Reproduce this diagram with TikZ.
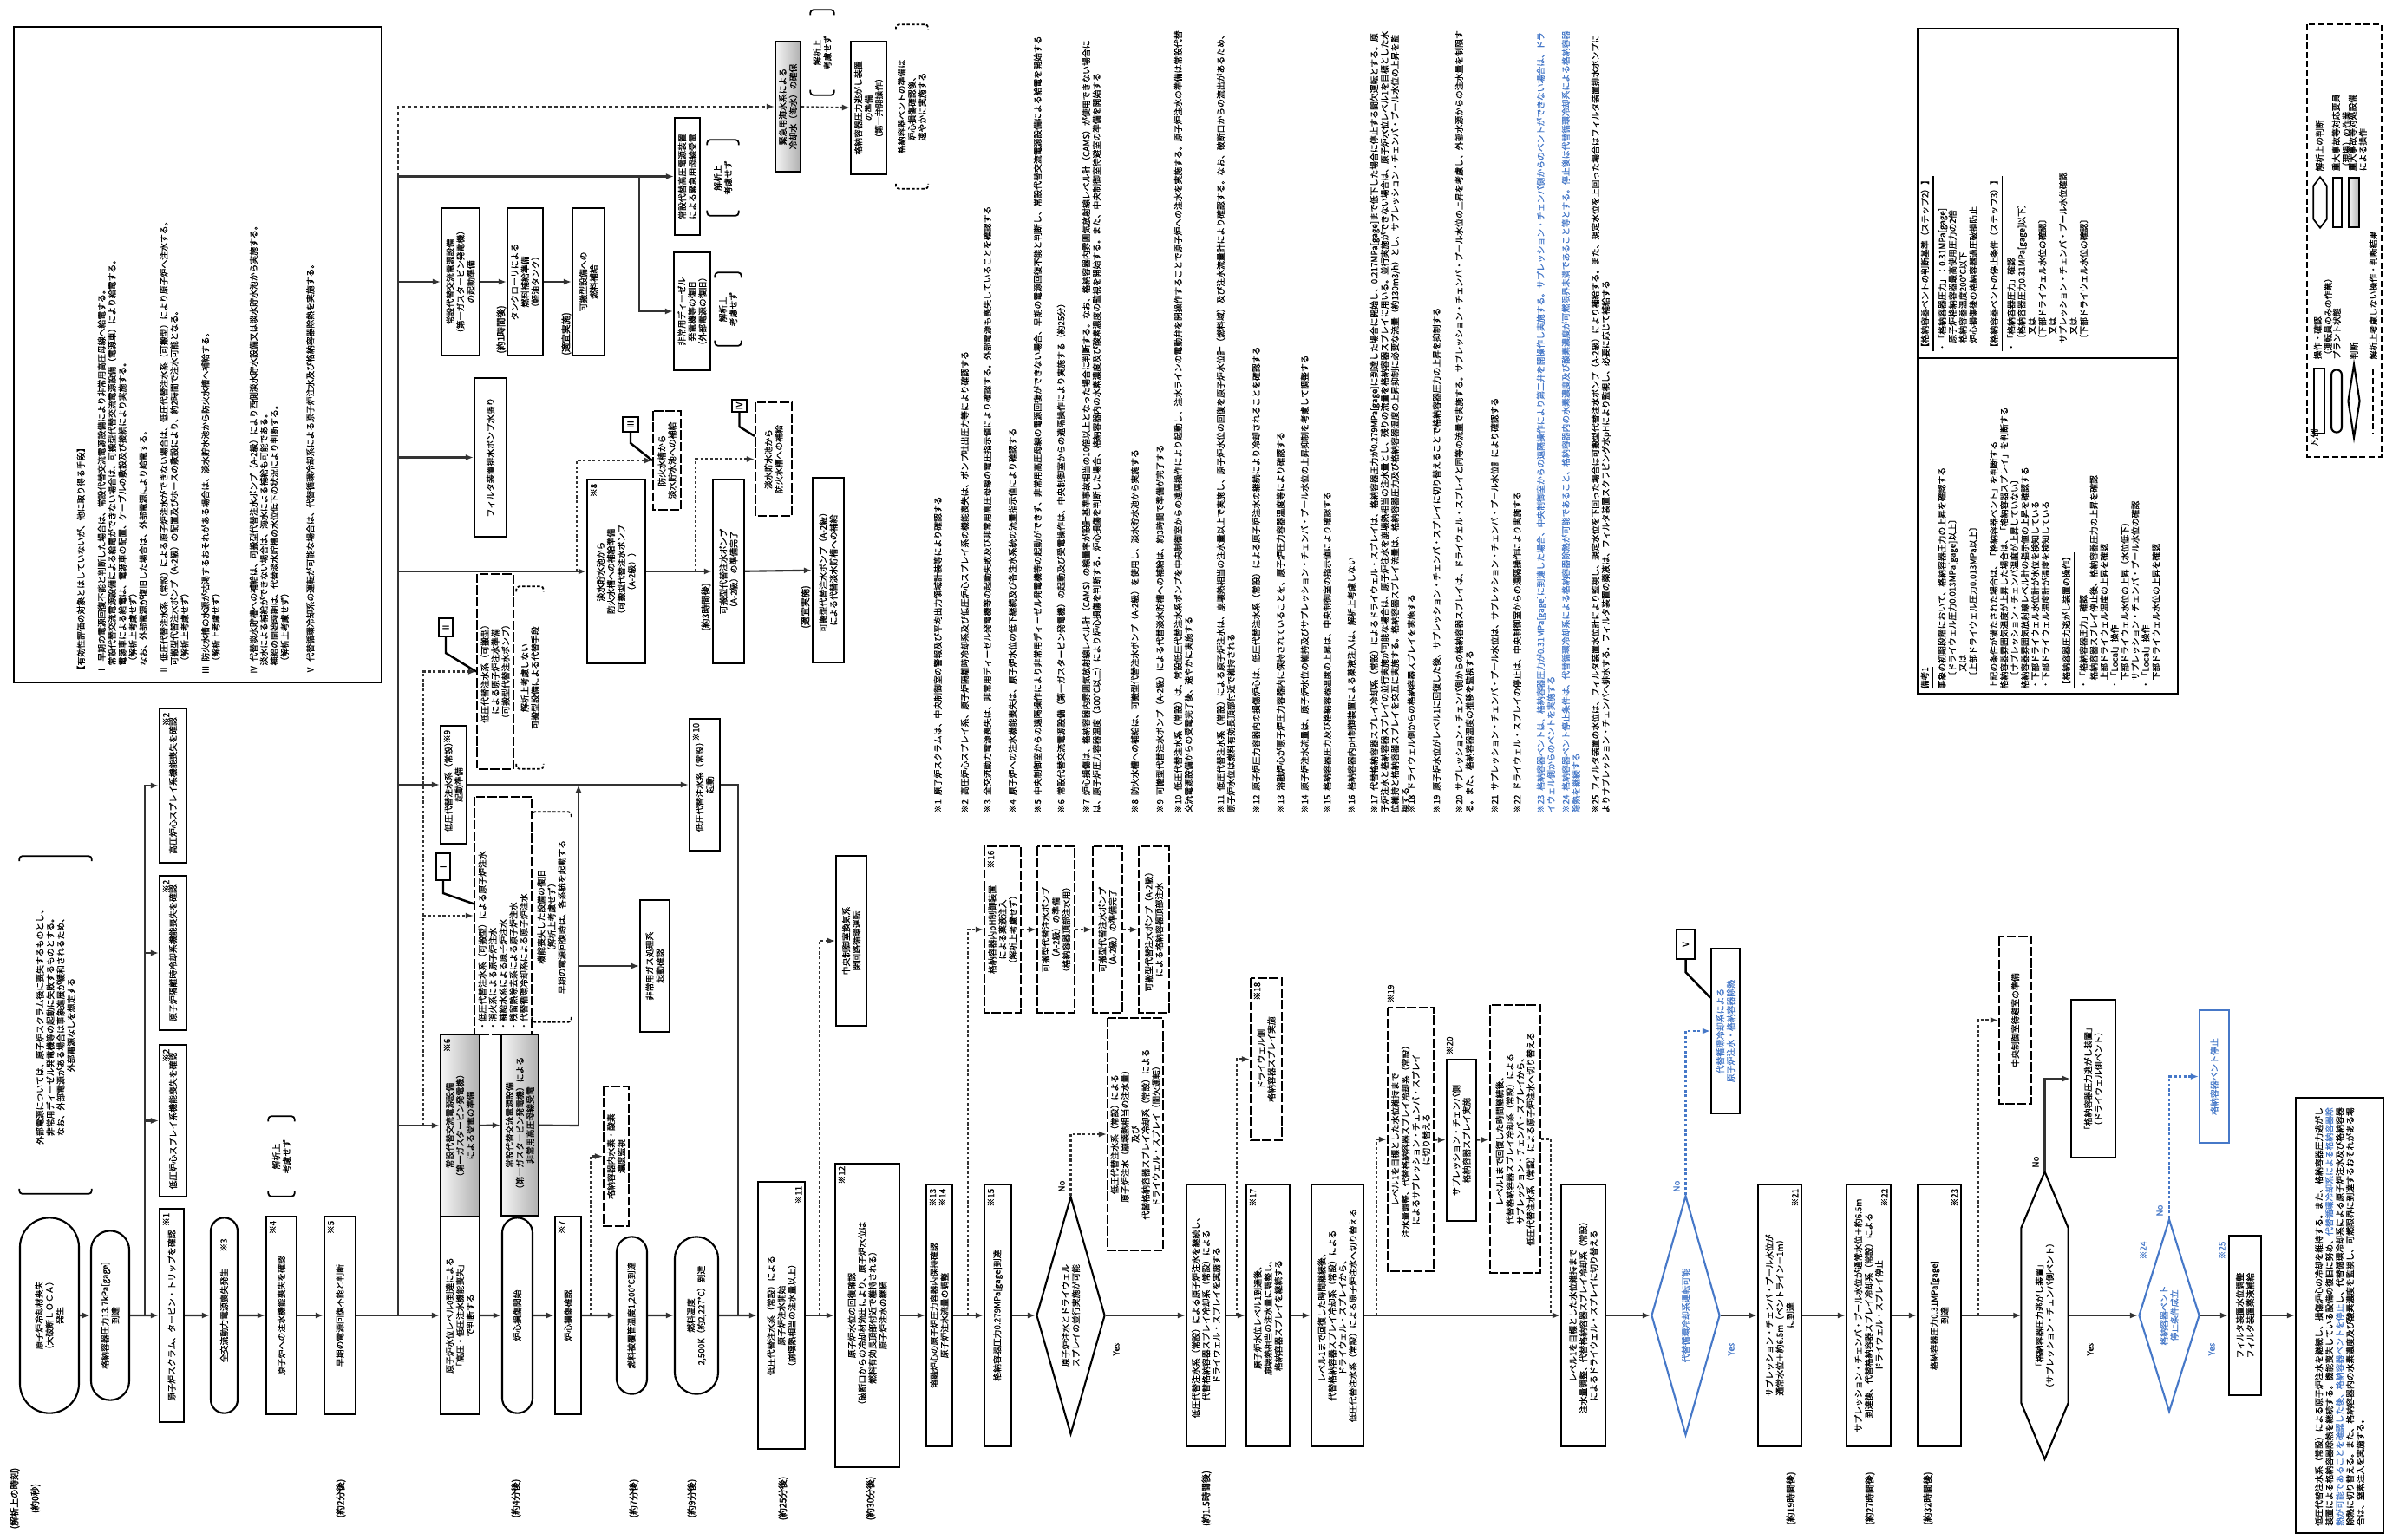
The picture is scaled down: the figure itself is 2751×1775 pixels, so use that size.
\documentclass[tikz,border=0pt]{standalone}
\usepackage{fontspec}
\setmainfont{Noto Sans CJK JP}[FakeBold=0.6]
\newfontfamily\heavyjp{Noto Sans CJK JP}[FakeBold=2]
\usetikzlibrary{arrows.meta, shapes.geometric, shapes.misc, calc}
\XeTeXlinebreaklocale "ja"
\XeTeXlinebreakskip=0pt plus 0.2pt
\definecolor{flowblue}{RGB}{70,120,200}
\newcommand{\jpsmall}{\fontsize{2.8}{3.4}\selectfont}
\tikzset{
    opbox/.style={draw, line width=0.6pt, inner sep=0.4pt, align=flush center, font=\jpsmall},
    dbox/.style={opbox, dash pattern=on 3pt off 0.8pt},
    shbox/.style={opbox, left color=gray!8, right color=gray!62},
    term/.style={opbox, rounded rectangle},
    judge/.style={opbox, diamond, inner sep=0pt},
    bjudge/.style={judge, draw=flowblue, text=flowblue},
    plain/.style={inner sep=0.4pt, align=flush center, font=\jpsmall},
    callbox/.style={draw, line width=0.6pt, inner sep=0pt, align=flush center, font=\jpsmall},
    tagtxt/.style={rotate=90, inner sep=0.3pt, font=\jpsmall},
    notecol/.style={rotate=90, inner sep=0pt, align=flush left, font=\jpsmall},
    timelbl/.style={rotate=90, inner sep=0pt, font=\heavyjp\fontsize{3}{3.6}\selectfont},
    flow/.style={line width=0.6pt, draw=black!80, -{Latex[length=0.9mm, width=0.7mm]}},
    subflow/.style={flow, dash pattern=on 0.9pt off 0.7pt},
    bluesub/.style={subflow, draw=flowblue},
    link/.style={line width=0.6pt, draw=black!80},
    callline/.style={line width=0.7pt},
}
% box given by its corners in the page (x1,y1,x2,y2), text turned upward
\newcommand{\pbox}[7][opbox]{%
    \pgfmathsetmacro\pbW{(#6-#4)/100}%
    \pgfmathsetmacro\pbH{(#5-#3)/100}%
    \pgfmathsetmacro\pbT{max(\pbW-0.1,0.1)}%
    \node[rotate=90, minimum width=\pbW cm, minimum height=\pbH cm, text width=\pbT cm, #1]
        (#2) at ({(#3+#5)/2},{(#4+#6)/2}) {#7};}
% box on the main line
\newcommand{\mnode}[6][opbox]{\pbox[#1]{#2}{#3}{(1517-#5)}{#4}{(1517+#5)}{#6}}
\newcommand{\tg}[4][anchor=north east]{\node[tagtxt, #1] (#2) at (#3) {#4};}
\newcommand{\brk}[2][]{%
    \draw[line width=0.5pt, rounded corners=1pt, #1] (#2.north west) -- ++(0,6) -| (#2.south west);
    \draw[line width=0.5pt, rounded corners=1pt, #1] (#2.north east) -- ++(0,-6) -| (#2.south east);}

\begin{document}
\begin{tikzpicture}[x=0.01cm, y=-0.01cm]
\path[use as bounding box, fill=white] (0,0) rectangle (2751,1775);

% main sequence
\mnode[term, text width=1.45cm]{n1}{23}{91}{114}{原子炉冷却材喪失\\（大破断ＬＯＣＡ）\\発生}
\mnode[term, text width=1.5cm]{n2}{105}{149}{99}{格納容器圧力13.7kPa[gage]\\到達}
\mnode{n3}{184}{212}{123}{原子炉スクラム、タービン・トリップを確認}
\mnode[term, text width=1.9cm]{n4}{243}{274}{114}{全交流動力電源喪失発生}
\mnode{n5}{307}{342}{114}{原子炉への注水機能喪失を確認}
\mnode{n6}{374}{410}{114}{早期の電源回復不能と判断}
\mnode{n7}{508}{553}{114}{原子炉水位レベル0到達による\\「高圧・低圧注水機能喪失」\\で判断する}
\mnode[term, text width=1.9cm]{n8}{579}{614}{114}{炉心損傷開始}
\mnode{n9}{640}{670}{114}{炉心損傷確認}
\mnode[term, text width=1.4cm]{n10}{711}{746}{92}{燃料被覆管温度1,200℃到達}
\mnode[term, text width=1.3cm]{n11}{778}{828}{92}{燃料温度\\2,500K（約2,227℃）到達}
\mnode{n12}{874}{928}{154}{低圧代替注水系（常設）による\\原子炉注水開始\\（崩壊熱相当の注水量以上）}
\mnode{n13}{963}{1037}{175}{原子炉水位の回復確認\\（破断口からの冷却材流出により、原子炉水位は\\燃料有効長頂部付近で維持される）\\原子炉注水の継続}
\mnode{n14}{1068}{1098}{151}{溶融炉心の原子炉圧力容器内保持確認\\原子炉注水流量の調整}
\mnode{n15}{1135}{1166}{151}{格納容器圧力0.279MPa[gage]到達}
\mnode[judge, text width=1.3cm, shape aspect=3.4]{d1}{1195}{1274}{137}{原子炉注水とドライウェル\\スプレイの並行実施が可能}
\mnode{n16}{1368}{1413}{151}{低圧代替注水系（常設）による原子炉注水を継続し、\\代替格納容器スプレイ冷却系（常設）による\\ドライウェル・スプレイを実施する}
\mnode{n17}{1437}{1487}{151}{原子炉水位レベル1到達後、\\崩壊熱相当の注水量に調整し、\\格納容器スプレイを継続する}
\mnode{n18}{1512}{1572}{151}{レベル1まで回復した時間継続後、\\代替格納容器スプレイ冷却系（常設）による\\ドライウェル・スプレイから、\\低圧代替注水系（常設）による原子炉注水へ切り替える}
\mnode{n19}{1800}{1851}{151}{レベル1を目標とした水位維持まで\\注水量調整、代替格納容器スプレイ冷却系（常設）\\によるドライウェル・スプレイに切り替える}
\mnode[bjudge, text width=1.3cm, shape aspect=3.5]{d2}{1904}{1983}{138}{代替循環冷却系運転可能}
\mnode{n20}{2027}{2077}{151}{サプレッション・チェンバ・プール水位が\\通常水位＋約6.5m（ベントライン－1m）\\に到達}
\mnode{n21}{2129}{2180}{151}{サプレッション・チェンバ・プール水位が通常水位＋約6.5m\\到達後、代替格納容器スプレイ冷却系（常設）による\\ドライウェル・スプレイ停止}
\mnode{n22}{2211}{2261}{151}{格納容器圧力0.31MPa[gage]\\到達}
\mnode[plain, text width=2.1cm]{hx}{2331}{2384}{165}{「格納容器圧力逃がし装置」\\（サプレッション・チェンバ側ベント）}
\draw[line width=0.6pt] (hx.east) -- ($(hx.north east)+(0,65)$) -- ($(hx.north west)+(0,-65)$) -- (hx.west)
    -- ($(hx.south west)+(0,-65)$) -- ($(hx.south east)+(0,65)$) -- cycle;
\mnode[bjudge, text width=0.85cm, shape aspect=3.2]{d3}{2466}{2536}{111}{格納容器ベント\\停止条件成立}
\mnode{n23}{2570}{2607}{92}{フィルタ装置水位調整\\フィルタ装置薬液補給}
\mnode[opbox, align=flush left, text width=4.85cm]{n24}{2647}{2748}{251}{低圧代替注水系（常設）による原子炉注水を継続し、損傷炉心の冷却を維持する。また、格納容器圧力逃がし装置による格納容器除熱を継続する。機能喪失している設備の復旧に努め、\textcolor{flowblue}{代替循環冷却系による格納容器除熱が可能であることを確認した後、格納容器ベントを停止}し、代替循環冷却系による原子炉注水及び格納容器除熱に切り替える。また、格納容器内の水素濃度及び酸素濃度を監視し、可燃限界に到達するおそれがある場合は、窒素注入を実施する。}

% branch boxes
\pbox{t1}{184}{817}{215}{995}{高圧炉心スプレイ系機能喪失を確認}
\pbox{t2}{184}{1010}{215}{1188}{原子炉隔離時冷却系機能喪失を確認}
\pbox{t3}{184}{1205}{215}{1380}{低圧炉心スプレイ系機能喪失を確認}
\pbox[plain]{bn1}{23}{994}{105}{1370}{外部電源については、原子炉スクラム後に喪失するものとし、\\非常用ディーゼル発電機等の起動に失敗するものとする。\\なお、外部電源がある場合は事象進展が緩和されるため、\\外部電源なしを想定する}
\pbox[plain]{bn2}{310}{1294}{339}{1373}{解析上\\考慮せず}
\pbox[shbox]{g1}{894}{48}{923}{198}{緊急用海水系による\\冷却水（海水）の確保}
\pbox[plain]{bn3}{935}{18}{961}{103}{解析上\\考慮せず}
\pbox{h1}{981}{48}{1022}{201}{格納容器圧力逃がし装置\\の準備\\（第一弁開操作）}
\pbox[plain]{bn4}{1034}{35}{1069}{211}{格納容器ベントの準備は\\炉心損傷確認後、\\速やかに実施する}
\pbox{p1}{778}{136}{807}{271}{常設代替高圧電源装置\\による緊急用母線受電}
\pbox[plain]{bn5}{816}{168}{851}{242}{解析上\\考慮せず}
\pbox{p2}{777}{291}{819}{427}{非常用ディーゼル\\発電機等の復旧\\（外部電源の復旧）}
\pbox[plain]{bn6}{825}{321}{854}{392}{解析上\\考慮せず}
\pbox{q1}{509}{240}{553}{410}{常設代替交流電源設備\\（第一ガスタービン発電機）\\の起動準備}
\pbox{q2}{585}{240}{626}{410}{タンクローリによる\\燃料補給準備\\（軽油タンク）}
\pbox{q3}{660}{240}{697}{410}{可搬型設備への\\燃料補給}
\pbox{r1}{547}{436}{584}{619}{フィルタ装置排水ポンプ水張り}
\pbox{s1}{677}{553}{744}{765}{淡水貯水池から\\防火水槽への補給準備\\（可搬型代替注水ポンプ\\（A-2級））}
\pbox{s2}{822}{553}{858}{765}{可搬型代替注水ポンプ\\（A-2級）の準備完了}
\pbox{s3}{937}{551}{973}{764}{可搬型代替注水ポンプ（A-2級）\\による代替淡水貯槽への補給}
\pbox[dbox]{u1}{753}{474}{785}{588}{防火水槽から\\淡水貯水池への補給}
\pbox[dbox]{u2}{871}{464}{913}{595}{淡水貯水池から\\防火水槽への補給}
\pbox{ap}{508}{837}{538}{973}{低圧代替注水系（常設）\\起動準備}
\pbox{bp}{795}{829}{830}{981}{低圧代替注水系（常設）\\起動}
\pbox[dbox]{v1}{550}{662}{592}{887}{低圧代替注水系（可搬型）\\による原子炉注水準備\\（可搬型代替注水ポンプ）}
\pbox[plain]{bn7}{596}{683}{626}{880}{解析上考慮しない\\可搬型設備による代替手段}
\pbox[dbox, align=flush left]{w1}{547}{919}{613}{1193}{・低圧代替注水系（可搬型）による原子炉注水\\・消火系による原子炉注水\\・補給水系による原子炉注水\\・残留熱除去系による原子炉注水\\・代替循環冷却系による原子炉注水}
\pbox[plain]{bn8}{614}{943}{658}{1172}{機能喪失した設備の復旧\\（解析上考慮せず）\\早期の電源回復時は、各系統を起動する}
\pbox[shbox]{sA}{508}{1193}{553}{1403}{常設代替交流電源設備\\（第一ガスタービン発電機）\\による受電の準備}
\pbox[shbox]{sB}{578}{1193}{621}{1402}{常設代替交流電源設備\\（第一ガスタービン発電機）による\\非常用高圧母線受電}
\pbox{x1}{738}{1038}{772}{1190}{非常用ガス処理系\\起動確認}
\pbox[dbox]{y1}{696}{1253}{725}{1414}{格納容器内水素・酸素\\濃度監視}
\pbox{z1}{964}{987}{999}{1183}{中央制御室換気系\\閉回路循環運転}
\pbox[dbox]{c1}{1135}{976}{1177}{1168}{格納容器内pH制御装置\\による薬液注入\\（解析上考慮せず）}
\pbox[dbox]{c2}{1196}{976}{1239}{1168}{可搬型代替注水ポンプ\\（A-2級）の準備\\（格納容器頂部注水用）}
\pbox[dbox]{c3}{1260}{976}{1294}{1168}{可搬型代替注水ポンプ\\（A-2級）の準備完了}
\pbox[dbox]{c4}{1313}{976}{1348}{1168}{可搬型代替注水ポンプ（A-2級）\\による格納容器頂部注水}
\pbox[dbox]{e1}{1277}{1174}{1341}{1442}{低圧代替注水系（常設）による\\原子炉注水（崩壊熱相当の注水量）\\及び\\代替格納容器スプレイ冷却系（常設）による\\ドライウェル・スプレイ（間欠運転）}
\pbox[dbox]{f1}{1442}{1128}{1478}{1315}{ドライウェル側\\格納容器スプレイ実施}
\pbox[dbox]{g19}{1600}{1162}{1653}{1466}{レベル1を目標とした水位維持まで\\注水量調整、代替格納容器スプレイ冷却系（常設）\\によるサプレッション・チェンバ・スプレイ\\に切り替える}
\pbox{g20}{1668}{1222}{1702}{1408}{サプレッション・チェンバ側\\格納容器スプレイ実施}
\pbox[dbox]{g21}{1718}{1159}{1776}{1468}{レベル1まで回復した時間継続後、\\代替格納容器スプレイ冷却系（常設）による\\サプレッション・チェンバ・スプレイから、\\低圧代替注水系（常設）による原子炉注水へ切り替える}
\pbox[opbox, text=flowblue]{b1}{1973}{1094}{2006}{1284}{代替循環冷却系による\\原子炉注水・格納容器除熱}
\pbox[dbox]{k1}{2305}{1080}{2342}{1273}{中央制御室待避室の準備}
\pbox{k2}{2388}{1153}{2439}{1335}{「格納容器圧力逃がし装置」\\（ドライウェル側ベント）}
\pbox[opbox, draw=flowblue, text=flowblue]{k3}{2536}{1165}{2570}{1318}{格納容器ベント停止}

% callouts
\pbox[callbox]{cI}{503}{984}{519}{1015}{Ⅰ}
\pbox[callbox]{cII}{506}{713}{522}{734}{Ⅱ}
\pbox[callbox]{cIII}{718}{481}{736}{498}{Ⅲ}
\pbox[callbox]{cIV}{844}{461}{861}{475}{Ⅳ}
\pbox[callbox]{cV}{1933}{1072}{1954}{1106}{Ⅴ}
\draw[callline] (cI.west) -- ++(0,14) -- ($(w1.north east)!0.45!(w1.north west)$);
\draw[callline] (cII.west) -- ++(0,18) -- ($(v1.north east)!0.5!(v1.north west)$);
\draw[callline] (cIII.west) -- ++(0,12) -- ($(u1.north east)!0.5!(u1.north west)$);
\draw[callline] (cIV.west) -- ++(0,16) -- ($(u2.north east)!0.3!(u2.north west)$);
\draw[callline] (cV.west) -- ++(0,14) -- ($(b1.north east)!0.3!(b1.north west)$);

% brackets
\brk{bn1}
\brk{bn2}
\brk{bn3}
\brk[dash pattern=on 1pt off 0.6pt]{bn4}
\brk{bn5}
\brk{bn6}
\brk[dash pattern=on 1pt off 0.6pt]{bn7}
\brk[dash pattern=on 1pt off 0.6pt]{bn8}

% junctions
\coordinate (j1) at (167,1517);
\coordinate (j2) at (459,1517);
\coordinate (j3) at (681,1517);
\coordinate (j4) at (851,1517);
\coordinate (j5) at (945,1517);
\coordinate (j6) at (1116,1517);
\coordinate (j7) at (1426,1517);
\coordinate (j8) at (1587,1517);
\coordinate (j9) at (1788,1517);
\coordinate (j10) at (2281,1517);
\coordinate (kp) at (737,204);
\coordinate (ku1) at (665,659);
\coordinate (ku2) at (802,659);
\coordinate (kd) at (488,1298);
\coordinate (ksb) at (667,1298);

% main line
\draw[flow] (n1) -- (n2);
\draw[flow] (n2) -- (n3);
\draw[flow] (n3) -- (n4);
\draw[flow] (n4) -- (n5);
\draw[flow] (n5) -- (n6);
\draw[flow] (n6) -- (n7);
\draw[flow] (n7) -- (n8);
\draw[flow] (n8) -- (n9);
\draw[flow] (n9) -- (n10);
\draw[flow] (n10) -- (n11);
\draw[flow] (n11) -- (n12);
\draw[flow] (n12) -- (n13);
\draw[flow] (n13) -- (n14);
\draw[flow] (n14) -- (n15);
\draw[flow] (n15) -- (d1);
\draw[flow] (d1) -- (n16);
\draw[flow] (n16) -- (n17);
\draw[flow] (n17) -- (n18);
\draw[flow] (n18) -- (n19);
\draw[flow] (n19) -- (d2);
\draw[flow] (d2) -- (n20);
\draw[flow] (n20) -- (n21);
\draw[flow] (n21) -- (n22);
\draw[flow] (n22) -- (hx);
\draw[flow] (hx) -- (d3);
\draw[flow] (d3) -- (n23);
\draw[flow] (n23) -- (n24);

% branches
\draw[flow] (j1) |- (t1);
\draw[flow] (j1) |- (t2);
\draw[flow] (j1) |- (t3);
\draw[flow] (j2) |- (p1);
\draw[flow] (kp) |- (p2);
\draw[flow, dash pattern=on 1.2pt off 0.8pt] (j2 |- p1) |- (g1);
\draw[subflow] (g1) -- (h1);
\draw[flow] (j2) |- (q1);
\draw[flow] (q1) -- (q2);
\draw[flow] (q2) -- (q3);
\draw[flow] (j2) |- (r1);
\draw[flow] (j2) |- (s1);
\draw[flow] (s1) -- (s2);
\draw[flow] (s2) -- (s3);
\draw[subflow] (ku1) |- (u1);
\draw[subflow] (ku2) |- (u2);
\draw[flow] (j2) |- (ap);
\draw[flow] (ap) -- (bp);
\draw[link] (bp) -| (j4);
\draw[subflow] (kd) |- (v1);
\draw[subflow] (kd) |- (w1);
\draw[flow] (j2 |- sA) -- (sA);
\draw[flow] (sA) -- (sB);
\draw[link] (sB) -- (ksb);
\draw[flow] (ksb) -- (ksb |- ap);
\draw[flow] (ksb |- x1) -- (x1);
\draw[subflow] (j3) |- (y1);
\draw[subflow] (j5) |- (z1);
\draw[subflow] (j6) |- (c1);
\draw[subflow] (c1) -- (c2);
\draw[subflow] (c2) -- (c3);
\draw[subflow] (c3) -- (c4);
\draw[subflow] (d1.east) |- (e1);
\draw[subflow] (j7) |- (f1);
\draw[subflow] (j8) |- (g19);
\draw[subflow] (g19) -- (g20);
\draw[subflow] (g20) -- (g21);
\draw[link, dash pattern=on 0.9pt off 0.7pt] (g21) -| (j9);
\draw[bluesub] (d2.east) |- (b1);
\draw[subflow] (j10) |- (k1);
\draw[flow] (hx.east) |- (k2);
\draw[bluesub] (d3.east) |- (k3);

% yes / no
\node[tagtxt] (no1) at (1224,1368) {No};
\node[tagtxt] (ye1) at (1287,1556) {Yes};
\node[tagtxt, text=flowblue] (no2) at (1933,1368) {No};
\node[tagtxt, text=flowblue] (ye2) at (1996,1556) {Yes};
\node[tagtxt] (no3) at (2347,1340) {No};
\node[tagtxt] (ye3) at (2410,1556) {Yes};
\node[tagtxt, text=flowblue] (no4) at (2490,1396) {No};
\node[tagtxt, text=flowblue] (ye4) at (2550,1556) {Yes};

% note marks
\tg{tg1}{186,1397}{※1}
\tg{tg2}{186,820}{※2}
\tg{tg3}{186,1013}{※2}
\tg{tg4}{186,1208}{※2}
\tg[anchor=center]{tg5}{258,1436}{※3}
\tg{tg6}{309,1406}{※4}
\tg{tg7}{376,1406}{※5}
\tg{tg8}{510,1196}{※6}
\tg{tg9}{642,1406}{※7}
\tg{tg10}{679,556}{※8}
\tg{tg11}{510,840}{※9}
\tg{tg12}{797,832}{※10}
\tg[anchor=south east]{tg13}{926,1366}{※11}
\tg{tg14}{965,1343}{※12}
\tg{tg15}{1070,1369}{※13}
\tg{tg16}{1081,1369}{※14}
\tg{tg17}{1137,1369}{※15}
\tg{tg18}{1137,979}{※16}
\tg{tg19}{1439,1369}{※17}
\tg{tg20}{1444,1131}{※18}
\tg[anchor=north west]{tg21}{1598,1158}{※19}
\tg[anchor=north west]{tg22}{1666,1218}{※20}
\tg[anchor=south east]{tg23}{2075,1369}{※21}
\tg[anchor=south east]{tg24}{2178,1369}{※22}
\tg[anchor=south east]{tg25}{2259,1369}{※23}
\tg[anchor=center, text=flowblue]{tg26}{2471,1442}{※24}
\tg[anchor=center, text=flowblue]{tg27}{2562,1442}{※25}

% time labels
\node[timelbl] (tl1) at (17,1728) {(解析上の時刻)};
\node[timelbl] (tl2) at (41,1728) {(約0秒)};
\node[timelbl] (tl3) at (393,1728) {(約2分後)};
\node[timelbl] (tl4) at (595,1728) {(約4分後)};
\node[timelbl] (tl5) at (731,1728) {(約7分後)};
\node[timelbl] (tl6) at (798,1728) {(約9分後)};
\node[timelbl] (tl7) at (903,1728) {(約25分後)};
\node[timelbl] (tl8) at (1004,1728) {(約30分後)};
\node[timelbl] (tl9) at (1391,1728) {(約1.5時間後)};
\node[timelbl] (tl10) at (2065,1728) {(約19時間後)};
\node[timelbl] (tl11) at (2156,1728) {(約27時間後)};
\node[timelbl] (tl12) at (2223,1728) {(約32時間後)};
\node[timelbl] (tl13) at (578,380) {(約1時間後)};
\node[timelbl] (tl14) at (653,385) {(適宜実施)};
\node[timelbl] (tl15) at (814,700) {(約3時間後)};
\node[timelbl] (tl16) at (929,700) {(適宜実施)};

% notes column
\node[notecol, text width=9.05cm, anchor=north west] (nt1) at (1076,938) {\hangindent=1.8em\hangafter=1 ※1\enspace 原子炉スクラムは、中央制御室の警報及び平均出力領域計装等により確認する};
\node[notecol, text width=9.05cm, anchor=north west] (nt2) at (1107,938) {\hangindent=1.8em\hangafter=1 ※2\enspace 高圧炉心スプレイ系、原子炉隔離時冷却系及び低圧炉心スプレイ系の機能喪失は、ポンプ吐出圧力等により確認する};
\node[notecol, text width=9.05cm, anchor=north west] (nt3) at (1133,938) {\hangindent=1.8em\hangafter=1 ※3\enspace 全交流動力電源喪失は、非常用ディーゼル発電機等の起動失敗及び非常用高圧母線の電圧指示値により確認する。外部電源も喪失していることを確認する};
\node[notecol, text width=9.05cm, anchor=north west] (nt4) at (1162,938) {\hangindent=1.8em\hangafter=1 ※4\enspace 原子炉への注水機能喪失は、原子炉水位の低下継続及び各注水系統の流量指示値により確認する};
\node[notecol, text width=9.05cm, anchor=north west] (nt5) at (1191,938) {\hangindent=1.8em\hangafter=1 ※5\enspace 中央制御室からの遠隔操作により非常用ディーゼル発電機等の起動ができず、非常用高圧母線の電源回復ができない場合、早期の電源回復不能と判断し、常設代替交流電源設備による給電を開始する};
\node[notecol, text width=9.05cm, anchor=north west] (nt6) at (1218,938) {\hangindent=1.8em\hangafter=1 ※6\enspace 常設代替交流電源設備（第一ガスタービン発電機）の起動及び受電操作は、中央制御室からの遠隔操作により実施する（約25分）};
\node[notecol, text width=9.05cm, anchor=north west] (nt7) at (1247,938) {\hangindent=1.8em\hangafter=1 ※7\enspace 炉心損傷は、格納容器内雰囲気放射線レベル計（CAMS）の線量率が設計基準事故相当の10倍以上となった場合に判断する。なお、格納容器内雰囲気放射線レベル計（CAMS）が使用できない場合には、原子炉圧力容器温度（300℃以上）により炉心損傷を判断する。炉心損傷を判断した場合、格納容器内の水素濃度及び酸素濃度の監視を開始する。また、中央制御室待避室の準備を開始する};
\node[notecol, text width=9.05cm, anchor=north west] (nt8) at (1303,938) {\hangindent=1.8em\hangafter=1 ※8\enspace 防火水槽への補給は、可搬型代替注水ポンプ（A-2級）を使用し、淡水貯水池から実施する};
\node[notecol, text width=9.05cm, anchor=north west] (nt9) at (1332,938) {\hangindent=1.8em\hangafter=1 ※9\enspace 可搬型代替注水ポンプ（A-2級）による代替淡水貯槽への補給は、約3時間で準備が完了する};
\node[notecol, text width=9.05cm, anchor=north west] (nt10) at (1353,938) {\hangindent=1.8em\hangafter=1 ※10\enspace 低圧代替注水系（常設）は、常設低圧代替注水系ポンプを中央制御室からの遠隔操作により起動し、注水ラインの電動弁を開操作することで原子炉への注水を実施する。原子炉注水の準備は常設代替交流電源設備からの受電完了後、速やかに実施する};
\node[notecol, text width=9.05cm, anchor=north west] (nt11) at (1402,938) {\hangindent=1.8em\hangafter=1 ※11\enspace 低圧代替注水系（常設）による原子炉注水は、崩壊熱相当の注水量以上で実施し、原子炉水位の回復を原子炉水位計（燃料域）及び注水流量計により確認する。なお、破断口からの流出があるため、原子炉水位は燃料有効長頂部付近で維持される};
\node[notecol, text width=9.05cm, anchor=north west] (nt12) at (1443,938) {\hangindent=1.8em\hangafter=1 ※12\enspace 原子炉圧力容器内の損傷炉心は、低圧代替注水系（常設）による原子炉注水の継続により冷却されることを確認する};
\node[notecol, text width=9.05cm, anchor=north west] (nt13) at (1471,938) {\hangindent=1.8em\hangafter=1 ※13\enspace 溶融炉心が原子炉圧力容器内に保持されていることを、原子炉圧力容器温度等により確認する};
\node[notecol, text width=9.05cm, anchor=north west] (nt14) at (1499,938) {\hangindent=1.8em\hangafter=1 ※14\enspace 原子炉注水流量は、原子炉水位の維持及びサプレッション・チェンバ・プール水位の上昇抑制を考慮して調整する};
\node[notecol, text width=9.05cm, anchor=north west] (nt15) at (1525,938) {\hangindent=1.8em\hangafter=1 ※15\enspace 格納容器圧力及び格納容器温度の上昇は、中央制御室の指示値により確認する};
\node[notecol, text width=9.05cm, anchor=north west] (nt16) at (1553,938) {\hangindent=1.8em\hangafter=1 ※16\enspace 格納容器内pH制御装置による薬液注入は、解析上考慮しない};
\node[notecol, text width=9.05cm, anchor=north west] (nt17) at (1579,938) {\hangindent=1.8em\hangafter=1 ※17\enspace 代替格納容器スプレイ冷却系（常設）によるドライウェル・スプレイは、格納容器圧力が0.279MPa[gage]に到達した場合に開始し、0.217MPa[gage]まで低下した場合に停止する間欠運転とする。原子炉注水と格納容器スプレイの並行実施が可能な場合は、原子炉注水を崩壊熱相当の注水量とし、残りの流量を格納容器スプレイに用いる。並行実施ができない場合は、原子炉水位レベル1を目標とした水位維持と格納容器スプレイを交互に実施する。格納容器スプレイ流量は、格納容器圧力及び格納容器温度の上昇抑制に必要な流量（約130m3/h）とし、サプレッション・チェンバ・プール水位の上昇を監視する};
\node[notecol, text width=9.05cm, anchor=north west] (nt18) at (1622,938) {\hangindent=1.8em\hangafter=1 ※18\enspace ドライウェル側からの格納容器スプレイを実施する};
\node[notecol, text width=9.05cm, anchor=north west] (nt19) at (1651,938) {\hangindent=1.8em\hangafter=1 ※19\enspace 原子炉水位がレベル1に回復した後、サプレッション・チェンバ・スプレイに切り替えることで格納容器圧力の上昇を抑制する};
\node[notecol, text width=9.05cm, anchor=north west] (nt20) at (1677,938) {\hangindent=1.8em\hangafter=1 ※20\enspace サプレッション・チェンバ側からの格納容器スプレイは、ドライウェル・スプレイと同等の流量で実施する。サプレッション・チェンバ・プール水位の上昇を考慮し、外部水源からの注水量を制限する。また、格納容器温度の推移を監視する};
\node[notecol, text width=9.05cm, anchor=north west] (nt21) at (1718,938) {\hangindent=1.8em\hangafter=1 ※21\enspace サプレッション・チェンバ・プール水位は、サプレッション・チェンバ・プール水位計により確認する};
\node[notecol, text width=9.05cm, anchor=north west] (nt22) at (1744,938) {\hangindent=1.8em\hangafter=1 ※22\enspace ドライウェル・スプレイの停止は、中央制御室からの遠隔操作により実施する};
\node[notecol, text width=9.05cm, anchor=north west, text=flowblue] (nt23) at (1771,938) {\hangindent=1.8em\hangafter=1 ※23\enspace 格納容器ベントは、格納容器圧力が0.31MPa[gage]に到達した場合、中央制御室からの遠隔操作により第二弁を開操作し実施する。サプレッション・チェンバ側からのベントができない場合は、ドライウェル側からのベントを実施する};
\node[notecol, text width=9.05cm, anchor=north west, text=flowblue] (nt24) at (1800,938) {\hangindent=1.8em\hangafter=1 ※24\enspace 格納容器ベント停止条件は、代替循環冷却系による格納容器除熱が可能であること、格納容器内の水素濃度及び酸素濃度が可燃限界未満であること等とする。停止後は代替循環冷却系による格納容器除熱を継続する};
\node[notecol, text width=9.05cm, anchor=north west] (nt25) at (1834,938) {\hangindent=1.8em\hangafter=1 ※25\enspace フィルタ装置の水位は、フィルタ装置水位計により監視し、規定水位を下回った場合は可搬型代替注水ポンプ（A-2級）により補給する。また、規定水位を上回った場合はフィルタ装置排水ポンプによりサプレッション・チェンバへ排水する。フィルタ装置の薬液は、フィルタ装置スクラビング水pHにより監視し、必要に応じて補給する};

% note box, upper left
\pbox{nb1}{16}{31}{440}{787}{}
\node[notecol, text width=7.3cm, anchor=north west] (nb1t) at (88,778) {【有効性評価の対象とはしていないが、他に取り得る手段】\\[3.4pt]
Ⅰ\enspace 早期の電源回復不能と判断した場合は、常設代替交流電源設備により非常用高圧母線へ給電する。\\
\quad 常設代替交流電源設備による給電ができない場合は、可搬型代替交流電源設備（電源車）により給電する。\\
\quad 電源車による給電は、電源車の配置、ケーブルの敷設及び接続により実施する。\\
\quad （解析上考慮せず）\\
\quad なお、外部電源が復旧した場合は、外部電源により給電する。\\[3.4pt]
Ⅱ\enspace 低圧代替注水系（常設）による原子炉注水ができない場合は、低圧代替注水系（可搬型）により原子炉へ注水する。\\
\quad 可搬型代替注水ポンプ（A-2級）の配置及びホースの敷設により、約2時間で注水可能となる。\\
\quad （解析上考慮せず）\\[3.4pt]
Ⅲ\enspace 防火水槽の水源が枯渇するおそれがある場合は、淡水貯水池から防火水槽へ補給する。\\
\quad （解析上考慮せず）\\[9pt]
Ⅳ\enspace 代替淡水貯槽への補給は、可搬型代替注水ポンプ（A-2級）により西側淡水貯水設備又は淡水貯水池から実施する。\\
\quad 淡水による補給ができない場合は、海水による補給も可能である。\\
\quad 補給の開始時期は、代替淡水貯槽の水位低下の状況により判断する。\\
\quad （解析上考慮せず）\\[5pt]
Ⅴ\enspace 代替循環冷却系の運転が可能な場合は、代替循環冷却系による原子炉注水及び格納容器除熱を実施する。};

% note box, upper right
\pbox{nb2}{2211}{33}{2511}{413}{}
\pbox{nb3}{2211}{413}{2511}{800}{}
\node[notecol, text width=3.65cm, anchor=north west] (nb2t) at (2214,406) {\underline{【格納容器ベントの判断基準（ステップ2）】}\\
・「格納容器圧力」：0.31MPa[gage]\\
\quad 原子炉格納容器最高使用圧力の2倍\\
\quad 格納容器温度200℃以下\\
\quad 炉心損傷後の格納容器過圧破損防止\\[3.4pt]
\underline{【格納容器ベントの停止条件（ステップ3）】}\\
・「格納容器圧力」確認\\
\quad 〔格納容器圧力0.31MPa[gage]以下〕\\
\qquad 又は\\
\quad 〔下部ドライウェル水位の確認〕\\
\qquad 又は\\
\quad サプレッション・チェンバ・プール水位確認\\
\qquad 又は\\
\quad 〔下部ドライウェル水位の確認〕};
\node[notecol, text width=3.75cm, anchor=north west] (nb3t) at (2214,795) {\underline{備考1}\\
事象の初期段階において、格納容器圧力の上昇を確認する\\
\quad 〔ドライウェル圧力0.013MPa[gage]以上〕\\
\qquad 又は\\
\quad 〔上部ドライウェル圧力0.013MPa以上〕\\[3.4pt]
上記の条件が満たされた場合は、「格納容器ベント」を判断する\\
格納容器雰囲気温度が上昇した場合は、「格納容器スプレイ」を判断する\\
\quad 〔サプレッション・チェンバ温度が上昇していない〕\\
格納容器雰囲気放射線レベル計の指示値の上昇を確認する\\
・下部ドライウェル水位計が水位を検知している\\
・下部ドライウェル温度計が温度を検知している\\[3.4pt]
\underline{【格納容器圧力逃がし装置の操作】}\\
・「格納容器圧力」確認\\
\quad 格納容器スプレイ停止後、格納容器圧力の上昇を確認\\
\quad 上部ドライウェル温度の上昇を確認\\
・「Local」操作\\
\quad 下部ドライウェル水位の上昇（水位低下）\\
\quad サプレッション・チェンバ・プール水位の確認\\
・「Local」操作\\
\quad 下部ドライウェル水位の上昇を確認};

% legend
\pbox[draw, line width=0.5pt, dash pattern=on 2pt off 1pt]{lg}{2660}{35}{2746}{520}{}
\pbox[plain]{lgh}{2668}{205}{2682}{262}{}
\draw[line width=0.5pt] (lgh.east) -- ($(lgh.north east)+(0,10)$) -- ($(lgh.north west)+(0,-10)$) -- (lgh.west)
    -- ($(lgh.south west)+(0,-10)$) -- ($(lgh.south east)+(0,10)$) -- cycle;
\pbox{lgr1}{2690}{205}{2700}{262}{}
\pbox[shbox]{lgr2}{2708}{205}{2720}{262}{}
\pbox{lgs1}{2668}{425}{2680}{500}{}
\pbox[term]{lgs2}{2688}{425}{2700}{500}{}
\pbox[judge, text width=0.1cm, shape aspect=5]{lgs3}{2707}{420}{2721}{505}{}
\coordinate (lgd1) at (2736,425);
\coordinate (lgd2) at (2736,500);
\draw[line width=0.6pt, dash pattern=on 2pt off 1pt] (lgd1) -- (lgd2);
\node[notecol, text width=1.5cm, anchor=north west] (lgt1) at (2669,198) {解析上の判断};
\node[notecol, text width=1.5cm, anchor=north west] (lgt2) at (2688,198) {重大事故等対応要員\\（現場）の作業};
\node[notecol, text width=1.5cm, anchor=north west] (lgt3) at (2707,198) {重大事故等対処設備\\による操作};
\node[notecol, text width=1.3cm, anchor=north west] (lgt4) at (2667,415) {操作・確認\\（運転員のみの作業）};
\node[notecol, text width=1.3cm, anchor=north west] (lgt5) at (2689,415) {プラント状態};
\node[notecol, text width=1.3cm, anchor=north west] (lgt6) at (2709,415) {判断};
\node[notecol, text width=3.5cm, anchor=north west] (lgt7) at (2731,415) {解析上考慮しない操作・判断結果};
\node[notecol, anchor=north west] (lgt8) at (2663,515) {凡例};
\end{tikzpicture}
\end{document}
